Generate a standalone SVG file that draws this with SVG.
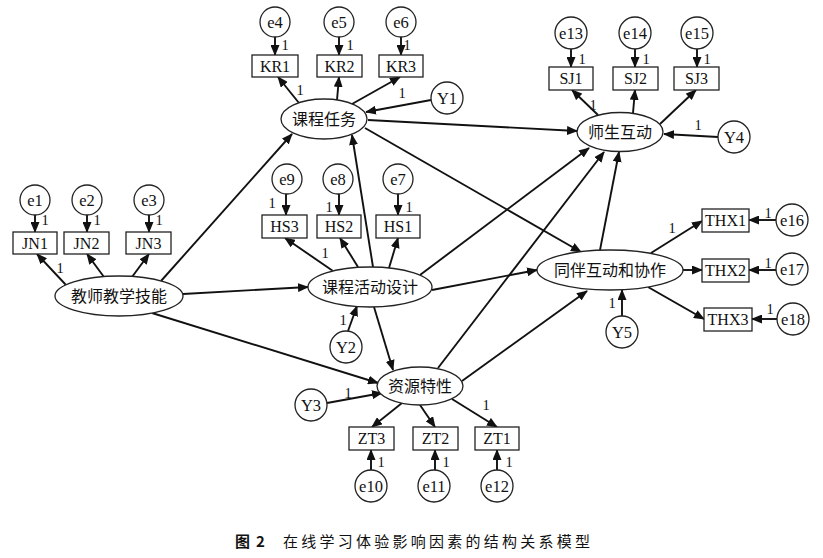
<svg xmlns="http://www.w3.org/2000/svg" width="823" height="558" viewBox="0 0 823 558">
<defs>
<marker id="ah" markerUnits="userSpaceOnUse" markerWidth="11" markerHeight="9" refX="10" refY="4.5" orient="auto">
<path d="M0,0 L11,4.5 L0,9 z" fill="#111"/>
</marker>
<style>
.bg{fill:#fff}
.lat ellipse{fill:#fff;stroke:#222;stroke-width:1.3}
.obs rect{fill:#fff;stroke:#222;stroke-width:1.3}
.err circle{fill:#fff;stroke:#222;stroke-width:1.3}
.cn{font-family:"Liberation Serif","Noto Sans CJK SC",serif;font-size:16px;fill:#111;text-anchor:middle;dominant-baseline:central}
.lt{font-family:"Liberation Serif","Noto Sans CJK SC",serif;font-size:16px;fill:#111;text-anchor:middle;dominant-baseline:central}
.et{font-family:"Liberation Serif",serif;font-size:16.5px;fill:#111;text-anchor:middle;dominant-baseline:central}
.one{font-family:"Liberation Serif",serif;font-size:14.5px;fill:#111;text-anchor:middle;dominant-baseline:central}
#connectors line{stroke:#111;stroke-width:1.9;marker-end:url(#ah)}
.cap{font-family:"Noto Sans CJK SC","Liberation Sans",sans-serif;font-size:15px;fill:#111}
</style>
</defs>
<rect class="bg" x="0" y="0" width="823" height="558"/>

<g id="connectors">
<line x1="275" y1="37" x2="275" y2="55"/>
<line x1="339" y1="37" x2="339" y2="55"/>
<line x1="401" y1="37" x2="401" y2="55"/>
<line x1="571" y1="49" x2="571" y2="67"/>
<line x1="635" y1="49" x2="635" y2="67"/>
<line x1="697" y1="49" x2="697" y2="67"/>
<line x1="35" y1="215" x2="35" y2="232"/>
<line x1="87" y1="215" x2="87" y2="232"/>
<line x1="149" y1="215" x2="149" y2="232"/>
<line x1="286" y1="194" x2="286" y2="215"/>
<line x1="339" y1="194" x2="339" y2="215"/>
<line x1="398" y1="194" x2="398" y2="215"/>
<line x1="371" y1="470" x2="371" y2="450"/>
<line x1="435" y1="470" x2="435" y2="450"/>
<line x1="497" y1="470" x2="497" y2="450"/>
<line x1="776" y1="220" x2="749" y2="220"/>
<line x1="776" y1="270" x2="749" y2="270"/>
<line x1="777" y1="319" x2="752" y2="319"/>
<line x1="299" y1="103" x2="278" y2="77"/>
<line x1="337" y1="100" x2="339" y2="77"/>
<line x1="352" y1="104" x2="400" y2="77"/>
<line x1="598" y1="115" x2="572" y2="90"/>
<line x1="633" y1="113" x2="635" y2="90"/>
<line x1="660" y1="124" x2="696" y2="90"/>
<line x1="66" y1="285" x2="37" y2="254"/>
<line x1="104" y1="277" x2="87" y2="254"/>
<line x1="132" y1="277" x2="149" y2="254"/>
<line x1="333" y1="271" x2="285" y2="238"/>
<line x1="358" y1="267" x2="340" y2="238"/>
<line x1="389" y1="268" x2="398" y2="238"/>
<line x1="402" y1="403" x2="372" y2="427"/>
<line x1="420" y1="405" x2="435" y2="427"/>
<line x1="452" y1="399" x2="497" y2="427"/>
<line x1="651" y1="253" x2="702" y2="221"/>
<line x1="683" y1="270" x2="702" y2="270"/>
<line x1="648" y1="287" x2="704" y2="319"/>
<line x1="431" y1="100" x2="366" y2="112"/>
<line x1="718" y1="137" x2="664" y2="134"/>
<line x1="348" y1="331" x2="357" y2="306"/>
<line x1="327" y1="403" x2="382" y2="393"/>
<line x1="622" y1="316" x2="622" y2="290"/>
<line x1="161" y1="281" x2="292" y2="134"/>
<line x1="183" y1="294" x2="308" y2="287"/>
<line x1="152" y1="313" x2="378" y2="383"/>
<line x1="373" y1="267" x2="352" y2="135"/>
<line x1="420" y1="275" x2="589" y2="148"/>
<line x1="432" y1="290" x2="537" y2="270"/>
<line x1="374" y1="307" x2="393" y2="370"/>
<line x1="438" y1="368" x2="604" y2="152"/>
<line x1="462" y1="381" x2="587" y2="291"/>
<line x1="368" y1="120" x2="577" y2="131"/>
<line x1="365" y1="128" x2="581" y2="252"/>
<line x1="600" y1="250" x2="619" y2="152"/>
</g>

<g id="labels">
<text class="one" x="285" y="45">1</text>
<text class="one" x="350" y="45">1</text>
<text class="one" x="407" y="45">1</text>
<text class="one" x="300" y="90">1</text>
<text class="one" x="402" y="93">1</text>
<text class="one" x="582" y="59">1</text>
<text class="one" x="646" y="59">1</text>
<text class="one" x="707" y="59">1</text>
<text class="one" x="593" y="105">1</text>
<text class="one" x="698" y="125">1</text>
<text class="one" x="45" y="220">1</text>
<text class="one" x="97" y="220">1</text>
<text class="one" x="159" y="220">1</text>
<text class="one" x="60" y="268">1</text>
<text class="one" x="272" y="203">1</text>
<text class="one" x="329" y="207">1</text>
<text class="one" x="409" y="207">1</text>
<text class="one" x="325" y="253">1</text>
<text class="one" x="343" y="320">1</text>
<text class="one" x="612" y="303">1</text>
<text class="one" x="672" y="228">1</text>
<text class="one" x="768" y="213">1</text>
<text class="one" x="768" y="263">1</text>
<text class="one" x="770" y="309">1</text>
<text class="one" x="348" y="393">1</text>
<text class="one" x="486" y="405">1</text>
<text class="one" x="381" y="462">1</text>
<text class="one" x="446" y="462">1</text>
<text class="one" x="509" y="462">1</text>
</g>

<g id="n-kcrw" class="lat"><ellipse cx="324" cy="119" rx="43" ry="20"/><text class="cn" x="324" y="119">课程任务</text></g>
<g id="n-sshd" class="lat"><ellipse cx="620" cy="132" rx="43" ry="19.5"/><text class="cn" x="620" y="132">师生互动</text></g>
<g id="n-jsjxjn" class="lat"><ellipse cx="119" cy="296" rx="64" ry="20"/><text class="cn" x="119" y="296">教师教学技能</text></g>
<g id="n-kchdsj" class="lat"><ellipse cx="370" cy="287" rx="62" ry="20"/><text class="cn" x="370" y="287">课程活动设计</text></g>
<g id="n-tbhd" class="lat"><ellipse cx="610" cy="270" rx="73" ry="20"/><text class="cn" x="610" y="270">同伴互动和协作</text></g>
<g id="n-zytx" class="lat"><ellipse cx="420" cy="386" rx="43" ry="19"/><text class="cn" x="420" y="386">资源特性</text></g>

<g id="n-KR1" class="obs"><rect x="252" y="55" width="46" height="22"/><text class="lt" x="275" y="66">KR1</text></g>
<g id="n-KR2" class="obs"><rect x="317" y="55" width="45" height="22"/><text class="lt" x="339.5" y="66">KR2</text></g>
<g id="n-KR3" class="obs"><rect x="379" y="55" width="44" height="22"/><text class="lt" x="401" y="66">KR3</text></g>
<g id="n-SJ1" class="obs"><rect x="549" y="67" width="44" height="23"/><text class="lt" x="571" y="78.5">SJ1</text></g>
<g id="n-SJ2" class="obs"><rect x="613" y="67" width="45" height="23"/><text class="lt" x="635.5" y="78.5">SJ2</text></g>
<g id="n-SJ3" class="obs"><rect x="674" y="67" width="45" height="23"/><text class="lt" x="696.5" y="78.5">SJ3</text></g>
<g id="n-JN1" class="obs"><rect x="13" y="232" width="44" height="22"/><text class="lt" x="35" y="243">JN1</text></g>
<g id="n-JN2" class="obs"><rect x="64" y="232" width="45" height="22"/><text class="lt" x="86.5" y="243">JN2</text></g>
<g id="n-JN3" class="obs"><rect x="126" y="232" width="45" height="22"/><text class="lt" x="148.5" y="243">JN3</text></g>
<g id="n-HS3" class="obs"><rect x="262" y="215" width="45" height="23"/><text class="lt" x="284.5" y="226.5">HS3</text></g>
<g id="n-HS2" class="obs"><rect x="317" y="215" width="44" height="23"/><text class="lt" x="339" y="226.5">HS2</text></g>
<g id="n-HS1" class="obs"><rect x="376" y="215" width="44" height="23"/><text class="lt" x="398" y="226.5">HS1</text></g>
<g id="n-THX1" class="obs"><rect x="702" y="209" width="47" height="23"/><text class="lt" x="725.5" y="220.5">THX1</text></g>
<g id="n-THX2" class="obs"><rect x="702" y="259" width="47" height="23"/><text class="lt" x="725.5" y="270.5">THX2</text></g>
<g id="n-THX3" class="obs"><rect x="704" y="308" width="48" height="23"/><text class="lt" x="728" y="319.5">THX3</text></g>
<g id="n-ZT3" class="obs"><rect x="349" y="427" width="45" height="23"/><text class="lt" x="371.5" y="438.5">ZT3</text></g>
<g id="n-ZT2" class="obs"><rect x="413" y="427" width="45" height="23"/><text class="lt" x="435.5" y="438.5">ZT2</text></g>
<g id="n-ZT1" class="obs"><rect x="475" y="427" width="44" height="23"/><text class="lt" x="497" y="438.5">ZT1</text></g>

<g id="n-e4" class="err"><circle cx="275" cy="22" r="15"/><text class="et" x="275" y="22">e4</text></g>
<g id="n-e5" class="err"><circle cx="339" cy="22" r="15"/><text class="et" x="339" y="22">e5</text></g>
<g id="n-e6" class="err"><circle cx="401" cy="22" r="15"/><text class="et" x="401" y="22">e6</text></g>
<g id="n-e13" class="err"><circle cx="571" cy="33" r="16"/><text class="et" x="571" y="33">e13</text></g>
<g id="n-e14" class="err"><circle cx="635" cy="33" r="16"/><text class="et" x="635" y="33">e14</text></g>
<g id="n-e15" class="err"><circle cx="697" cy="33" r="16"/><text class="et" x="697" y="33">e15</text></g>
<g id="n-Y1" class="err"><circle cx="447" cy="98" r="16"/><text class="et" x="447" y="98">Y1</text></g>
<g id="n-Y4" class="err"><circle cx="734" cy="137" r="16"/><text class="et" x="734" y="137">Y4</text></g>
<g id="n-e1" class="err"><circle cx="35" cy="200" r="15"/><text class="et" x="35" y="200">e1</text></g>
<g id="n-e2" class="err"><circle cx="87" cy="200" r="15"/><text class="et" x="87" y="200">e2</text></g>
<g id="n-e3" class="err"><circle cx="149" cy="200" r="15"/><text class="et" x="149" y="200">e3</text></g>
<g id="n-e9" class="err"><circle cx="287" cy="179" r="15"/><text class="et" x="287" y="179">e9</text></g>
<g id="n-e8" class="err"><circle cx="338" cy="179" r="15"/><text class="et" x="338" y="179">e8</text></g>
<g id="n-e7" class="err"><circle cx="398" cy="179" r="15"/><text class="et" x="398" y="179">e7</text></g>
<g id="n-Y2" class="err"><circle cx="346" cy="347" r="16"/><text class="et" x="346" y="347">Y2</text></g>
<g id="n-Y5" class="err"><circle cx="622" cy="332" r="16"/><text class="et" x="622" y="332">Y5</text></g>
<g id="n-Y3" class="err"><circle cx="311" cy="405" r="16"/><text class="et" x="311" y="405">Y3</text></g>
<g id="n-e16" class="err"><circle cx="792" cy="220" r="16"/><text class="et" x="792" y="220">e16</text></g>
<g id="n-e17" class="err"><circle cx="792" cy="269" r="16"/><text class="et" x="792" y="269">e17</text></g>
<g id="n-e18" class="err"><circle cx="793" cy="319" r="16"/><text class="et" x="793" y="319">e18</text></g>
<g id="n-e10" class="err"><circle cx="371" cy="486" r="16"/><text class="et" x="371" y="486">e10</text></g>
<g id="n-e11" class="err"><circle cx="434" cy="486" r="16"/><text class="et" x="434" y="486">e11</text></g>
<g id="n-e12" class="err"><circle cx="497" cy="486" r="16"/><text class="et" x="497" y="486">e12</text></g>

<g id="caption">
<text class="cap" x="235" y="547" font-weight="bold">图<tspan x="256">2</tspan></text>
<text class="cap" x="283" y="547" textLength="307" lengthAdjust="spacing">在线学习体验影响因素的结构关系模型</text>
</g>
</svg>
